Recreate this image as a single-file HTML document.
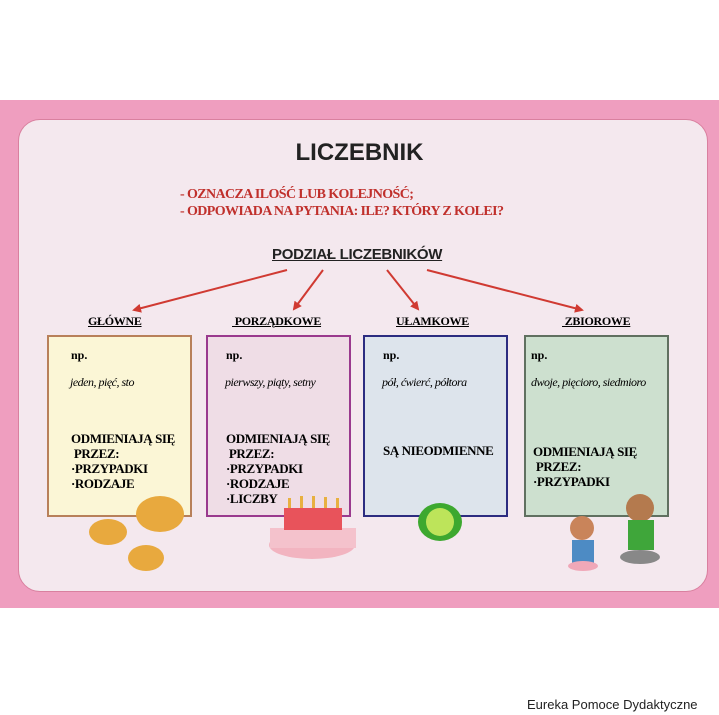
<!DOCTYPE html>
<html><head><meta charset="utf-8"><style>
body{margin:0;width:719px;height:715px;background:#fff;position:relative;overflow:hidden;font-family:"Liberation Serif",serif}
.a{position:absolute}
.band{left:0;top:100px;width:719px;height:508px;background:#ef9ebf}
.panel{left:18px;top:119px;width:688px;height:471px;background:#f4e8ee;border-radius:22px;border:1px solid #d9809f}
.box{position:absolute;top:335px;height:178px;width:141px;border:2px solid}
.lab{position:absolute;top:314px;font-weight:bold;font-size:12px;text-decoration:underline;letter-spacing:-0.3px}
.np{position:absolute;font-weight:bold;font-size:12px}
.it{position:absolute;font-style:italic;font-size:12px;letter-spacing:-0.5px}
.b{position:absolute;font-weight:bold;font-size:13px;line-height:15px;letter-spacing:-0.4px}
</style></head><body>
<div class="a band"></div>
<div class="a panel"></div>
<div class="a" style="left:0;width:719px;top:139px;text-align:center;font:bold 24px 'Liberation Sans',sans-serif;color:#222">LICZEBNIK</div>
<div class="a" style="left:180px;top:186px;color:#c0302c;font-weight:bold;font-size:14px;line-height:17px;letter-spacing:-0.6px">- OZNACZA ILOŚĆ LUB KOLEJNOŚĆ;<br>- ODPOWIADA NA PYTANIA: ILE? KTÓRY Z KOLEI?</div>
<div class="a" style="left:272px;top:246px;font:bold 15px 'Liberation Sans',sans-serif;text-decoration:underline;color:#222;letter-spacing:-0.3px">PODZIAŁ LICZEBNIKÓW</div>
<svg class="a" style="left:0;top:0" width="719" height="715">
<defs><marker id="m" markerWidth="9" markerHeight="9" refX="7" refY="4.5" orient="auto" markerUnits="userSpaceOnUse" viewBox="0 0 9 9"><path d="M0,0L9,4.5L0,9z" fill="#d03a32"/></marker></defs>
<g stroke="#d03a32" stroke-width="2" marker-end="url(#m)">
<line x1="287" y1="270" x2="134" y2="310"/><line x1="323" y1="270" x2="294" y2="309"/>
<line x1="387" y1="270" x2="418" y2="309"/><line x1="427" y1="270" x2="582" y2="310"/></g>
</svg>
<div class="lab" style="left:88px">GŁÓWNE</div>
<div class="lab" style="left:232px">&nbsp;PORZĄDKOWE</div>
<div class="lab" style="left:396px">UŁAMKOWE</div>
<div class="lab" style="left:562px">&nbsp;ZBIOROWE</div>
<div class="box" style="left:47px;background:#fbf6d6;border-color:#b8805a"></div>
<div class="box" style="left:206px;background:#efdde6;border-color:#9a3a8e"></div>
<div class="box" style="left:363px;background:#dde4ec;border-color:#2c2c80"></div>
<div class="box" style="left:524px;background:#cde0cf;border-color:#607060"></div>
<div class="np" style="left:71px;top:348px">np.</div><div class="np" style="left:226px;top:348px">np.</div><div class="np" style="left:383px;top:348px">np.</div><div class="np" style="left:531px;top:348px">np.</div>
<div class="it" style="left:70px;top:375px">jeden, pięć, sto</div>
<div class="it" style="left:225px;top:375px">pierwszy, piąty, setny</div>
<div class="it" style="left:382px;top:375px">pół, ćwierć, półtora</div>
<div class="it" style="left:531px;top:375px">dwoje, pięcioro, siedmioro</div>
<div class="b" style="left:71px;top:431px">ODMIENIAJĄ SIĘ<br>&nbsp;PRZEZ:<br>·PRZYPADKI<br>·RODZAJE</div>
<div class="b" style="left:226px;top:431px">ODMIENIAJĄ SIĘ<br>&nbsp;PRZEZ:<br>·PRZYPADKI<br>·RODZAJE<br>·LICZBY</div>
<div class="b" style="left:383px;top:443px">SĄ NIEODMIENNE</div>
<div class="b" style="left:533px;top:444px">ODMIENIAJĄ SIĘ<br>&nbsp;PRZEZ:<br>·PRZYPADKI</div>
<svg class="a" style="left:0;top:0" width="719" height="715">
<g fill="#e8a93e"><ellipse cx="160" cy="514" rx="24" ry="18"/><ellipse cx="108" cy="532" rx="19" ry="13"/><ellipse cx="146" cy="558" rx="18" ry="13"/></g>
<ellipse cx="312" cy="545" rx="43" ry="14" fill="#f2b4c0"/><rect x="270" y="528" width="86" height="20" fill="#f4c2cc"/><rect x="284" y="508" width="58" height="22" fill="#e8535b"/>
<g fill="#e8b040"><rect x="288" y="498" width="3" height="10"/><rect x="300" y="496" width="3" height="12"/><rect x="312" y="496" width="3" height="12"/><rect x="324" y="497" width="3" height="11"/><rect x="336" y="498" width="3" height="10"/></g>
<ellipse cx="440" cy="522" rx="22" ry="19" fill="#3da82f"/><circle cx="440" cy="522" r="14" fill="#bde45a"/>
<circle cx="582" cy="528" r="12" fill="#c9845a"/><rect x="572" y="540" width="22" height="25" fill="#4d8bc4"/><ellipse cx="583" cy="566" rx="15" ry="5" fill="#f0a8b8"/>
<circle cx="640" cy="508" r="14" fill="#b47a4e"/><rect x="628" y="520" width="26" height="30" fill="#3fa63a"/><ellipse cx="640" cy="557" rx="20" ry="7" fill="#888"/>
</svg>
<div class="a" style="left:527px;top:697px;font:13px 'Liberation Sans',sans-serif;color:#222">Eureka Pomoce Dydaktyczne</div>
</body></html>
